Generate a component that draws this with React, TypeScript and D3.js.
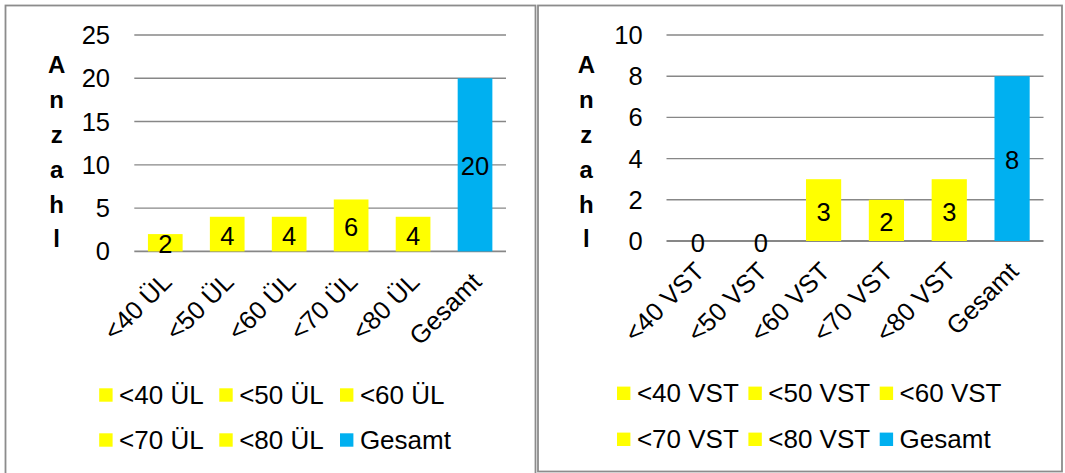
import React from "react";
import * as d3 from "d3";

const leftCategories = ["<40 ÜL", "<50 ÜL", "<60 ÜL", "<70 ÜL", "<80 ÜL", "Gesamt"];
const leftValues = [2, 4, 4, 6, 4, 20];
const leftTicks = [0, 5, 10, 15, 20, 25];

const rightCategories = ["<40 VST", "<50 VST", "<60 VST", "<70 VST", "<80 VST", "Gesamt"];
const rightValues = [0, 0, 3, 2, 3, 8];
const rightTicks = [0, 2, 4, 6, 8, 10];

const barColors = ["#FFFF00", "#FFFF00", "#FFFF00", "#FFFF00", "#FFFF00", "#00B0F0"];
const axisTitle = "Anzahl";

const FONT = "'Liberation Sans', Arial, Helvetica, sans-serif";
const FS = 25.5;
const FS_LEG = 26;

type PanelCfg = {
  categories: string[];
  values: number[];
  ticks: number[];
  x0: number;
  x1: number;
  yTop: number;
  yBottom: number;
  tickRight: number;
  titleX: number;
  legendCols: number[];
  legendRows: number[];
};

function Panel({ cfg }: { cfg: PanelCfg }) {
  const max = cfg.ticks[cfg.ticks.length - 1];
  const y = d3.scaleLinear().domain([0, max]).range([cfg.yBottom, cfg.yTop]);
  const pad = 0.44;
  const x = d3
    .scaleBand<string>()
    .domain(cfg.categories)
    .range([cfg.x0, cfg.x1])
    .paddingInner(pad)
    .paddingOuter(pad / 2);
  const sw = 13.4;
  return (
    <g>
      {cfg.ticks.map((t) => (
        <g key={t}>
          <line
            x1={cfg.x0}
            x2={cfg.x1}
            y1={y(t)}
            y2={y(t)}
            stroke="#878787"
            strokeWidth={t === 0 ? 1.8 : 1.4}
          />
          <text
            x={cfg.tickRight}
            y={y(t)}
            textAnchor="end"
            dominantBaseline="central"
            fontSize={FS}
            fontFamily={FONT}
            fill="#000"
          >
            {t}
          </text>
        </g>
      ))}
      {axisTitle.split("").map((ch, i) => (
        <text
          key={i}
          x={cfg.titleX}
          y={73.3 + 34.8 * i}
          textAnchor="middle"
          fontSize={24}
          fontWeight="bold"
          fontFamily={FONT}
          fill="#000"
        >
          {ch}
        </text>
      ))}
      {cfg.categories.map((c, i) => {
        const v = cfg.values[i];
        const bx = x(c) as number;
        const bw = x.bandwidth();
        return <rect key={c} x={bx} y={y(v)} width={bw} height={y(0) - y(v)} fill={barColors[i]} />;
      })}
      {cfg.categories.map((c, i) => {
        const v = cfg.values[i];
        const cx = (x(c) as number) + x.bandwidth() / 2;
        return (
          <text
            key={c}
            x={cx}
            y={(y(v) + y(0)) / 2 + 1.5}
            textAnchor="middle"
            dominantBaseline="central"
            fontSize={FS}
            fontFamily={FONT}
            fill="#000"
          >
            {v}
          </text>
        );
      })}
      {cfg.categories.map((c) => {
        const cx = (x(c) as number) + x.bandwidth() / 2;
        const ax = cx + 8;
        const ay = cfg.yBottom + 32;
        return (
          <text
            key={c}
            x={ax}
            y={ay}
            textAnchor="end"
            fontSize={FS}
            fontFamily={FONT}
            fill="#000"
            transform={`rotate(-45 ${ax} ${ay})`}
          >
            {c}
          </text>
        );
      })}
      {cfg.categories.map((c, i) => {
        const col = i % 3;
        const row = Math.floor(i / 3);
        const lx = cfg.legendCols[col];
        const ly = cfg.legendRows[row];
        return (
          <g key={c}>
            <rect x={lx} y={ly - sw / 2} width={sw} height={sw} fill={barColors[i]} />
            <text
              x={lx + sw + 6.5}
              y={ly + 8.5}
              fontSize={FS_LEG}
              fontFamily={FONT}
              fill="#000"
            >
              {c}
            </text>
          </g>
        );
      })}
    </g>
  );
}

export default function App() {
  const left: PanelCfg = {
    categories: leftCategories,
    values: leftValues,
    ticks: leftTicks,
    x0: 134.3,
    x1: 506,
    yTop: 35,
    yBottom: 251.4,
    tickRight: 110,
    titleX: 56.7,
    legendCols: [99.2, 219.3, 340],
    legendRows: [395, 440],
  };
  const right: PanelCfg = {
    categories: rightCategories,
    values: rightValues,
    ticks: rightTicks,
    x0: 666.5,
    x1: 1043.5,
    yTop: 35,
    yBottom: 241,
    tickRight: 642.6,
    titleX: 586.3,
    legendCols: [617, 748.4, 879.7],
    legendRows: [393.3, 439.3],
  };
  return (
    <svg
      width={1065}
      height={473}
      style={{ position: "absolute", left: 0, top: 0, background: "#fff" }}
    >
      <rect x={0} y={0} width={1065} height={473} fill="#fff" />
      <rect x={5.5} y={5.5} width={530} height={480} fill="#fff" stroke="#8c8c8c" strokeWidth={1.8} />
      <rect x={538} y={5.5} width={524} height={466} fill="#fff" stroke="#8c8c8c" strokeWidth={1.8} />
      <Panel cfg={left} />
      <Panel cfg={right} />
    </svg>
  );
}
